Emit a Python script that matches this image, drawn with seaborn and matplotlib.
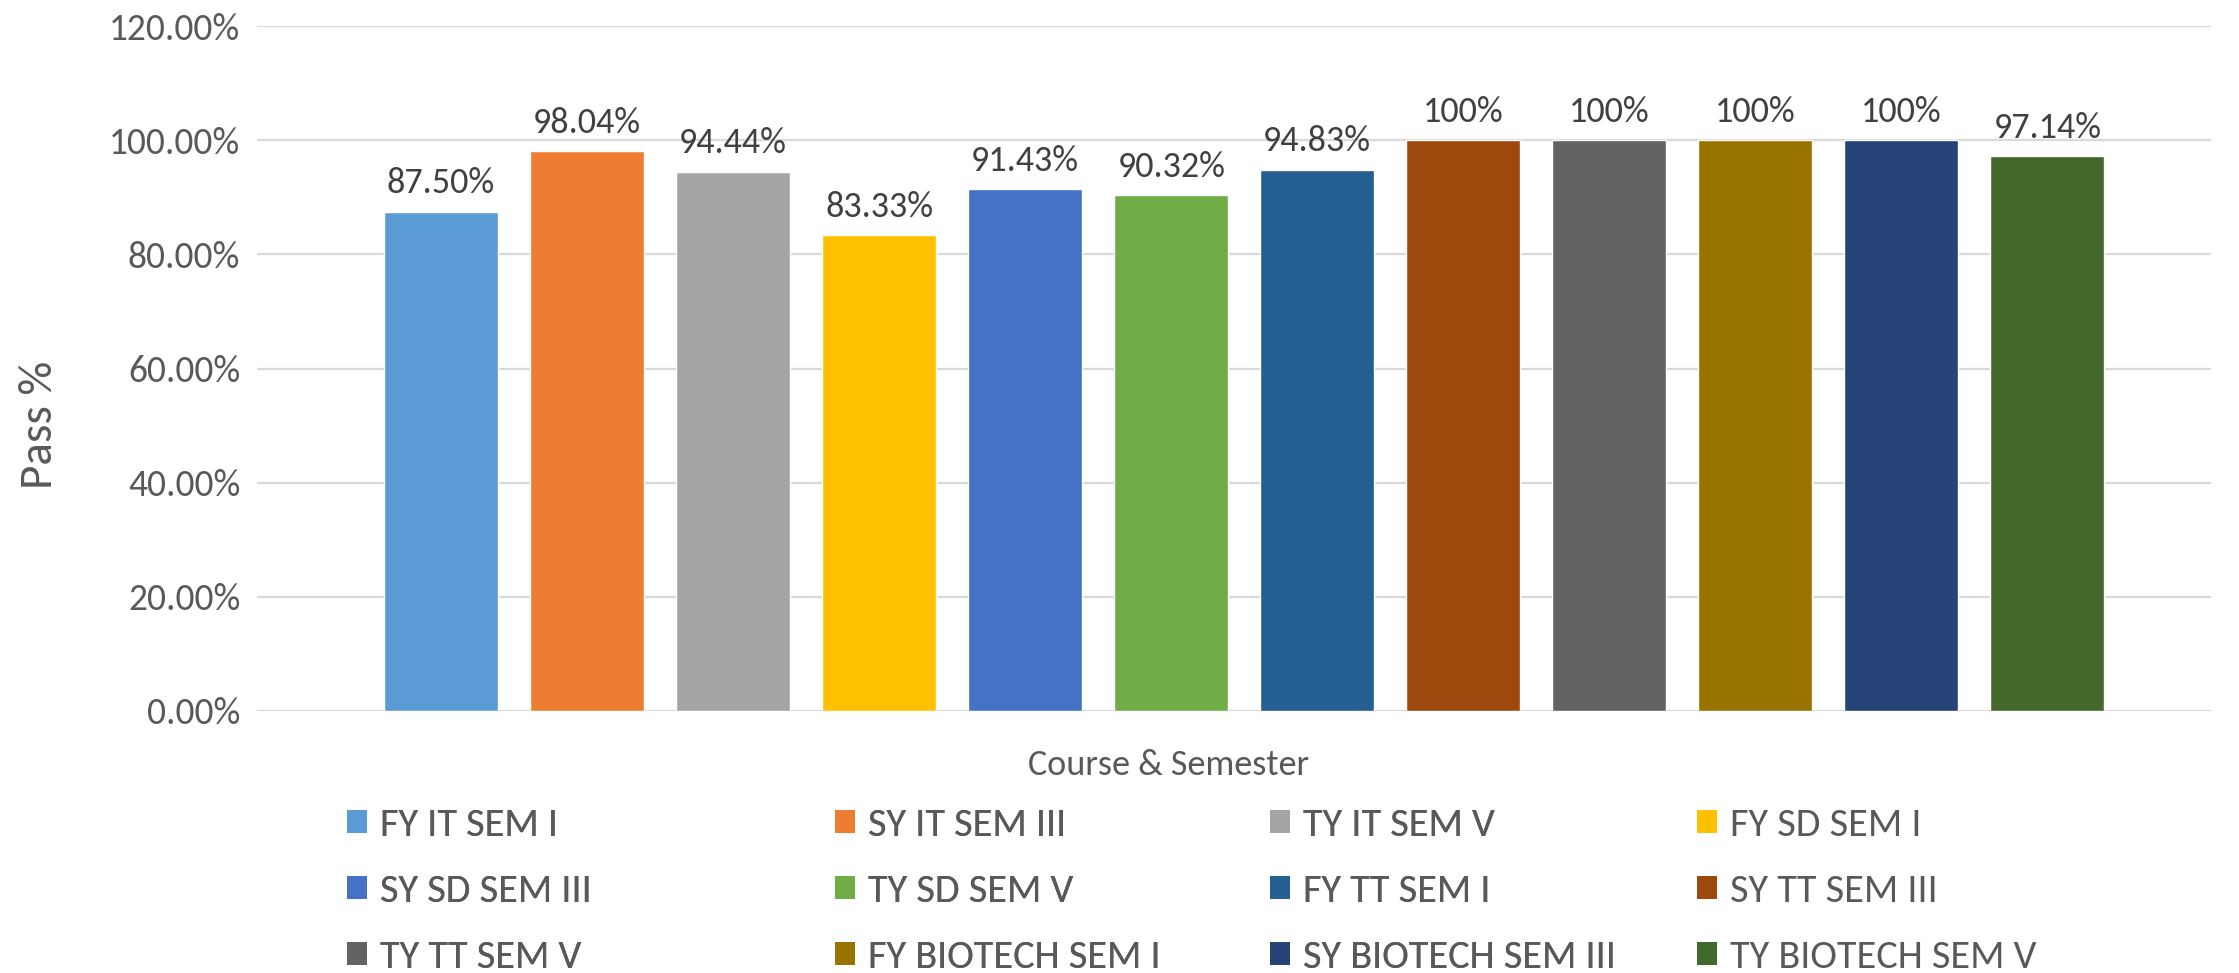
import numpy as np
import pandas as pd
import matplotlib
matplotlib.use("Agg")
import matplotlib.pyplot as plt
from matplotlib.patches import Patch
from matplotlib import font_manager
import seaborn as sns

courses = ["FY IT SEM I", "SY IT SEM III", "TY IT SEM V", "FY SD SEM I",
           "SY SD SEM III", "TY SD SEM V", "FY TT SEM I", "SY TT SEM III",
           "TY TT SEM V", "FY BIOTECH SEM I", "SY BIOTECH SEM III", "TY BIOTECH SEM V"]
pass_pct = [87.50, 98.04, 94.44, 83.33, 91.43, 90.32, 94.83, 100, 100, 100, 100, 97.14]
colors = ["#5B9BD5", "#ED7D31", "#A5A5A5", "#FFC000", "#4472C4", "#70AD47",
          "#255E91", "#9E480E", "#636363", "#997300", "#264478", "#43682B"]
y_ticks = [0, 20, 40, 60, 80, 100, 120]

sns.set_theme(style="white")
installed = {f.name for f in font_manager.fontManager.ttflist}
family = [f for f in ["Carlito", "Lato", "DejaVu Sans"] if f in installed]
plt.rcParams["font.family"] = family

df = pd.DataFrame({"course": courses, "pass_pct": pass_pct})

W, H = 2239, 973
fig = plt.figure(figsize=(W / 100, H / 100), dpi=100)
ax = fig.add_axes([257 / W, 1 - 711 / H, (2211 - 257) / W, (711 - 26) / H])

sns.barplot(data=df, x="course", y="pass_pct", hue="course", palette=colors,
            order=courses, hue_order=courses, width=0.78, dodge=False,
            legend=False, saturation=1, ax=ax)

for cont, v in zip(ax.containers, pass_pct):
    lbl = "100%" if v == 100 else f"{v:.2f}%"
    ax.bar_label(cont, labels=[lbl], padding=9, fontsize=26, color="#404040")

ax.set_xlim(-1.26, 12.12)
ax.set_ylim(0, 120)
ax.set_yticks(y_ticks)
ax.set_yticklabels([f"{t:.2f}%" for t in y_ticks], fontsize=27, color="#595959")
ax.set_xticks([])
ax.tick_params(axis="y", length=0, pad=12)
ax.yaxis.grid(True, color="#D9D9D9", linewidth=1.6)
ax.set_axisbelow(True)
for s in ax.spines.values():
    s.set_visible(False)

ax.set_ylabel("Pass %", fontsize=34, color="#595959")
ax.yaxis.set_label_coords((39 - 257) / (2211 - 257), (711 - 425) / (711 - 26))
ax.yaxis.label.set_va("center")
ax.set_xlabel("Course & Semester", fontsize=26, color="#595959")
ax.xaxis.set_label_coords((1168 - 257) / (2211 - 257), (711 - 765) / (711 - 26))
ax.xaxis.label.set_va("center")

handles = [Patch(facecolor=c, edgecolor="none") for c in colors]
col_x = [347, 835, 1270, 1697]
for c in range(4):
    hs = [handles[r * 4 + c] for r in range(3)]
    ls = [courses[r * 4 + c] for r in range(3)]
    leg = fig.legend(hs, ls, loc="center left", bbox_to_anchor=(col_x[c] / W, 1 - 891 / H),
                     frameon=False, fontsize=29, handlelength=0.5, handleheight=0.5,
                     handletextpad=0.32, labelspacing=0.74, borderpad=0, borderaxespad=0)
    for t in leg.get_texts():
        t.set_color("#595959")
    if c < 3:
        fig.add_artist(leg)

fig.savefig("out.png", dpi=100)
plt.close()
